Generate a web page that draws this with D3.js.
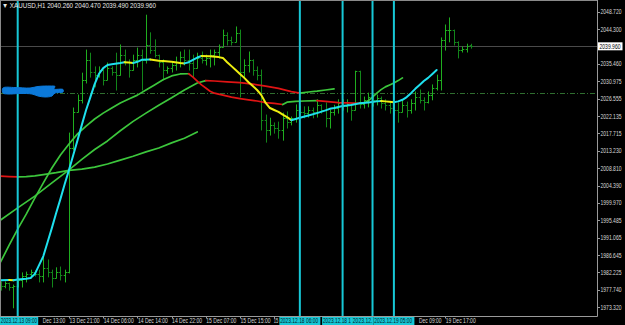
<!DOCTYPE html>
<html><head><meta charset="utf-8">
<script src="https://cdn.jsdelivr.net/npm/d3@7/dist/d3.min.js"></script>
<style>html,body{margin:0;padding:0;background:#000;overflow:hidden}</style>
</head><body>
<svg id="c" width="625" height="325"></svg>
<script>
// ---------- DATA ----------
const symbol = "XAUUSD,H1";
const barIndex = d3.range(-16, 95); // hourly bars, 0 = 13 Dec 21:00
const open = [1979.3,1978.8,1979.5,1978.5,1978.8,1980.3,1981.3,1981.8,1982.3,1981.8,1981.3,1983.4,1982.3,1980.8,1982.3,1981.6,
1982.3,2014.0,2023.2,2026.3,2031.4,2036.5,2033.4,2032.6,2033.9,2031.4,2034.4,2033.4,2032.6,2037.7,2036.0,2033.9,2036.5,2037.7,2036.5,2040.3,
2039.0,2037.7,2036.0,2033.9,2034.4,2035.2,2035.9,2037.2,2036.5,2035.7,2034.4,2037.0,2036.5,2037.0,2037.7,2038.5,2039.8,2042.8,2041.6,2041.1,
2043.4,2033.4,2035.2,2036.5,2033.9,2032.6,2021.1,2018.6,2019.9,2019.1,2018.6,2021.6,2020.6,2021.6,2023.7,2023.2,2022.9,2023.7,2023.2,2025.0,
2023.7,2021.6,2023.2,2024.2,2025.5,2024.7,2025.2,2023.7,2033.6,2025.2,2026.3,2027.0,2026.3,2026.8,2025.5,2025.0,2024.2,2023.7,2023.2,2025.0,
2023.7,2025.5,2027.0,2026.3,2025.7,2027.5,2029.3,2031.4,2041.6,2044.1,2044.1,2041.1,2039.0,2039.3,2040.26];
const high = [1979.8,1979.8,1979.5,1979.0,1980.8,1982.1,1982.3,1982.8,1982.6,1982.8,1986.2,1985.4,1982.8,1983.4,1983.6,1982.8,
2017.8,2024.2,2027.5,2033.1,2039.0,2038.2,2034.7,2034.7,2033.9,2035.7,2034.7,2038.2,2040.3,2039.0,2036.5,2037.7,2039.5,2039.0,2047.9,2043.4,
2041.6,2037.7,2036.5,2034.7,2035.9,2037.2,2038.5,2039.0,2039.0,2037.7,2038.2,2038.5,2037.7,2039.0,2039.0,2040.3,2044.1,2043.4,2042.3,2044.9,
2044.1,2036.5,2038.5,2036.5,2034.7,2033.9,2022.4,2021.6,2020.4,2020.6,2022.9,2023.2,2021.9,2025.0,2024.7,2024.5,2024.5,2024.2,2026.3,2025.0,
2025.5,2023.7,2024.9,2026.3,2026.3,2026.3,2025.2,2033.6,2033.6,2027.0,2028.0,2027.5,2027.5,2027.0,2026.3,2025.7,2025.2,2025.5,2026.3,2025.7,
2026.3,2028.3,2028.8,2026.8,2028.3,2030.1,2032.6,2042.1,2045.4,2047.2,2044.1,2041.1,2039.8,2040.5,2040.47];
const low = [1977.7,1978.3,1977.7,1973.2,1978.5,1978.5,1979.8,1980.8,1981.3,1979.8,1979.8,1981.1,1978.5,1980.8,1980.3,1979.8,
1982.1,2013.5,2023.2,2025.5,2030.6,2032.1,2029.6,2032.1,2030.1,2031.4,2032.6,2028.8,2032.6,2035.2,2032.1,2033.9,2034.7,2028.8,2035.7,2038.2,
2037.2,2034.7,2031.4,2033.1,2033.4,2033.9,2034.7,2035.2,2033.9,2032.1,2034.4,2035.7,2035.2,2034.7,2035.2,2037.0,2039.8,2040.3,2040.3,2041.1,
2027.0,2031.9,2033.4,2032.6,2031.4,2018.6,2015.5,2017.3,2017.8,2016.5,2016.0,2019.1,2019.9,2020.6,2022.4,2021.7,2021.9,2021.7,2021.9,2022.9,
2019.4,2019.1,2022.4,2022.9,2023.7,2023.2,2021.1,2023.7,2024.2,2024.2,2024.5,2024.7,2025.0,2024.2,2023.7,2022.9,2022.4,2020.6,2023.2,2021.9,
2022.9,2023.7,2025.5,2023.7,2025.5,2026.3,2028.8,2028.8,2039.0,2041.1,2040.3,2037.0,2038.5,2038.5,2039.49];
const close = [1978.8,1979.5,1978.5,1978.8,1980.3,1981.3,1981.8,1982.3,1981.8,1981.3,1983.4,1982.3,1980.8,1982.3,1981.6,1982.3,
2014.0,2023.2,2026.3,2031.4,2036.5,2033.4,2032.6,2033.9,2031.4,2034.4,2033.4,2032.6,2037.7,2036.0,2033.9,2036.5,2037.7,2036.5,2040.3,2039.0,
2037.7,2036.0,2033.9,2034.4,2035.2,2035.9,2037.2,2036.5,2035.7,2034.4,2037.0,2036.5,2037.0,2037.7,2038.5,2039.8,2042.8,2041.6,2041.1,2043.4,
2033.4,2035.2,2036.5,2033.9,2032.6,2021.1,2018.6,2019.9,2019.1,2018.6,2021.6,2020.6,2021.6,2023.7,2023.2,2022.9,2023.7,2023.2,2025.0,2023.7,
2021.6,2023.2,2024.2,2025.5,2024.7,2025.2,2023.7,2033.6,2025.2,2026.3,2027.0,2026.3,2026.8,2025.5,2025.0,2024.2,2023.7,2023.2,2025.0,2023.7,
2025.5,2027.0,2026.3,2025.7,2027.5,2029.3,2031.4,2041.6,2044.1,2044.1,2041.1,2039.0,2039.3,2040.0,2039.96];

// moving averages: [bar index, value]
const maFast = [[-16,1980.2],[-14,1980.3],[-13,1980.2],[-12,1980.4],[-10,1980.6],[-9,1980.8],[-8,1981.8],[-7,1984.1],[-6,1986.4],[-5,1990.0],
[-4,1993.6],[-3,1997.4],[-2,2001.0],[-1,2004.8],[0,2008.4],[1,2012.2],[2,2016.0],[3,2019.9],[4,2023.7],[5,2027.0],[6,2030.3],[7,2032.9],
[8,2034.4],[9,2035.2],[10,2035.4],[12,2035.7],[13,2035.9],[14,2035.8],[15,2035.7],[16,2036.0],[17,2036.5],[19,2036.6],[21,2036.3],[22,2036.2],
[24,2036.0],[26,2035.7],[27,2035.6],[28,2035.9],[29,2036.5],[30,2037.1],[31,2037.5],[33,2037.4],[35,2037.2],[36,2037.0],[37,2035.9],[38,2034.9],
[39,2033.9],[40,2032.9],[41,2031.9],[42,2030.8],[43,2029.8],[44,2028.8],[45,2027.5],[46,2025.5],[47,2024.2],[48,2023.7],[49,2023.2],[50,2022.5],
[51,2021.9],[52,2021.1],[53,2021.4],[54,2021.7],[56,2022.3],[58,2022.9],[60,2023.6],[61,2024.0],[62,2024.2],[64,2024.7],[66,2025.0],[68,2025.4],
[70,2025.6],[72,2025.9],[73,2026.0],[74,2025.9],[75,2025.8],[76,2025.7],[77,2025.9],[78,2026.3],[79,2027.0],[80,2028.0],[81,2029.1],[82,2030.1],
[83,2031.1],[84,2031.9],[85,2032.9],[86,2033.9]];
const maMid = [[-16,1984.9],[-14,1989.2],[-12,1993.3],[-10,1997.1],[-8,2001.2],[-6,2005.1],[-4,2008.9],[-2,2012.2],[0,2015.0],[2,2017.6],[4,2019.6],
[6,2021.4],[8,2022.9],[10,2024.2],[12,2025.5],[14,2026.5],[16,2027.5],[18,2028.8],[20,2030.1],[22,2031.4],[24,2032.4],[26,2032.9],[28,2032.95],
[29,2032.1],[30,2031.1],[31,2030.1],[32,2029.3],[33,2028.5],[34,2028.0],[36,2027.5],[38,2027.0],[40,2026.6],[42,2026.3],[44,2026.0],[46,2025.6],
[48,2025.4],[50,2025.1],[51,2025.7],[53,2025.9],[55,2026.0],[58,2026.1],[60,2025.9],[63,2025.6],[65,2025.5],[68,2025.4],[69,2025.5],[70,2026.0],
[71,2027.0],[72,2028.0],[73,2028.9],[74,2029.6],[75,2030.1],[76,2030.6],[77,2031.2],[78,2031.9]];
const maSlow = [[-16,1995.6],[-12,1998.7],[-8,2001.7],[-4,2005.1],[0,2008.4],[3,2011.1],[6,2013.6],[9,2015.8],[12,2018.4],[15,2020.8],[18,2022.9],
[21,2024.9],[24,2026.8],[27,2028.8],[30,2030.6],[32,2031.2],[34,2031.1],[37,2030.9],[40,2030.7],[43,2030.3],[46,2029.8],[49,2029.2],[52,2028.4],
[54,2028.0],[56,2028.3],[58,2028.5],[60,2028.8],[62,2029.1]];
const maLong = [[-16,2006.8],[-14,2006.7],[-12,2006.6],[-10,2006.7],[-8,2006.9],[-6,2007.2],[-3,2007.7],[0,2008.3],[3,2008.6],[6,2009.1],[9,2009.9],
[12,2010.9],[15,2011.9],[18,2013.0],[21,2014.0],[24,2015.3],[27,2016.5],[30,2018.1]];

const priceTicks = [2048.720,2044.300,2035.460,2030.975,2026.555,2022.135,2017.715,2013.230,2008.810,2004.390,1999.970,1995.485,1991.065,1986.645,1982.225,1977.740,1973.320];
// time labels as visible on the chart (some partly hidden behind the line labels)
const timeTickIdx    = [-8, 0, 8, 16, 24, 32, 40, 48, 80, 88];
const timeTickLabels = ["Dec 13:00","13 Dec 21:00","14 Dec 06:00","14 Dec 14:00","14 Dec 22:00","15 Dec 07:00","15 Dec 15:00","15","Dec 09:00","19 Dec 17:00"];
const vLineIdx = [-12,54,64,71,76];
const vLineLabels = ["2023.12.13 09:00","2023.12.18 06:00","2023.12.18 1","2023.12.","2023.12.19 05:00"];
const levelPrice = 2027.96;
const redaction = [[-15.44,2029.31],[-12.63,2029.44],[-9.12,2029.31],[-7.25,2029.70],[-4.44,2029.82],[-3.27,2029.70],[-3.51,2029.06],[-1.40,2028.93],
[-1.40,2028.29],[-3.27,2028.04],[-3.98,2027.27],[-5.61,2027.02],[-7.25,2027.27],[-8.65,2027.78],[-11.46,2027.91],[-14.27,2027.78],[-15.44,2028.04]];

// ---------- DRAW ----------
const W=625,H=325,R=597.5,B=316.5;
const FONT="'Liberation Sans', Arial, sans-serif";
const x = d3.scaleLinear().domain([-16,94]).range([0.6,470.85]);
const y = d3.scaleLinear().domain([1973.32,2048.72]).range([307.3,12]);
const px = i => Math.round(x(i))+0.5;
const svg = d3.select('#c');
svg.append('rect').attr('width',W).attr('height',H).attr('fill','#000');

// small axis text: 5px glyph widths, stretched vertically like the terminal font
function txt(g,xx,yy,s,len,fill,anchor,size,sy){
  const t=g.append('text').attr('x',0).attr('y',0)
   .attr('transform',`translate(${xx},${yy}) scale(1,${sy||1.3})`)
   .attr('font-family',FONT).attr('font-size',size||5)
   .attr('fill',fill).attr('text-anchor',anchor||'start').text(s);
  if(len) t.attr('textLength',len).attr('lengthAdjust','spacingAndGlyphs');
  return t;
}

const plot = svg.append('g');
const last = close.length-1;
// current price line
plot.append('line').attr('x1',0).attr('x2',R).attr('y1',Math.round(y(close[last]))+0.5).attr('y2',Math.round(y(close[last]))+0.5)
  .attr('stroke','#4a4a4a').attr('stroke-width',1);
// horizontal level
plot.append('line').attr('x1',0).attr('x2',R).attr('y1',Math.round(y(levelPrice))+0.5).attr('y2',Math.round(y(levelPrice))+0.5)
  .attr('stroke','#2f6e2f').attr('stroke-width',1).attr('stroke-dasharray','5,2,1,2');

// bars
const bars = barIndex.map((b,k)=>({i:b,o:open[k],h:high[k],l:low[k],c:close[k]}));
const bg = plot.append('g');
bars.forEach(d=>{
  const col = d.c>=d.o ? '#1fae1f' : '#12861a';
  const X = px(d.i);
  bg.append('line').attr('x1',X).attr('x2',X).attr('y1',y(d.h)-0.5).attr('y2',y(d.l)+0.5).attr('stroke',col).attr('stroke-width',1);
  bg.append('line').attr('x1',X-1.8).attr('x2',X).attr('y1',Math.round(y(d.o))+0.5).attr('y2',Math.round(y(d.o))+0.5).attr('stroke',col).attr('stroke-width',1);
  bg.append('line').attr('x1',X).attr('x2',X+1.8).attr('y1',Math.round(y(d.c))+0.5).attr('y2',Math.round(y(d.c))+0.5).attr('stroke',col).attr('stroke-width',1);
});

// coloured MA lines (colour by direction)
function drawMA(data, upCol, downCol, w){
  const line = d3.line().x(d=>x(d[0])).y(d=>y(d[1]));
  let runs=[], cur=null, prevCol=upCol;
  for(let k=1;k<data.length;k++){
    const a=data[k-1], b=data[k];
    const col = b[1]>a[1]?upCol:(b[1]<a[1]?downCol:prevCol);
    prevCol=col;
    if(!cur||cur.col!==col){ cur={col,pts:[a]}; runs.push(cur); }
    cur.pts.push(b);
  }
  runs.forEach(r=>plot.append('path').attr('d',line(r.pts)).attr('fill','none').attr('stroke',r.col)
    .attr('stroke-width',w).attr('stroke-linejoin','round').attr('stroke-linecap','round'));
}
drawMA(maLong,'#3cc63c','#e01414',1.7);
drawMA(maSlow,'#3cc63c','#e01414',1.7);
drawMA(maMid,'#3cc63c','#e01414',1.7);
drawMA(maFast,'#1ee0ee','#eeee10',2);

// vertical lines
vLineIdx.forEach(i=>{
  plot.append('line').attr('x1',x(i)).attr('x2',x(i)).attr('y1',0).attr('y2',B).attr('stroke','#17c8d6').attr('stroke-width',2);
});

// redaction scribble
plot.append('path').attr('d',d3.line().x(d=>x(d[0])).y(d=>y(d[1])).curve(d3.curveCatmullRomClosed)(redaction))
  .attr('fill','#0b79d9').attr('stroke','#0b79d9').attr('stroke-width',1);

// frame
svg.append('line').attr('x1',0).attr('x2',R).attr('y1',0.5).attr('y2',0.5).attr('stroke','#8a8a8a');
svg.append('line').attr('x1',0.5).attr('x2',0.5).attr('y1',0).attr('y2',B).attr('stroke','#8a8a8a');
svg.append('line').attr('x1',R).attr('x2',R).attr('y1',0).attr('y2',B).attr('stroke','#9a9a9a');
svg.append('line').attr('x1',0).attr('x2',R).attr('y1',B).attr('y2',B).attr('stroke','#9a9a9a');

// price axis
const ax = svg.append('g');
priceTicks.forEach(p=>{
  const yy=y(p);
  ax.append('line').attr('x1',R).attr('x2',R+2.5).attr('y1',Math.round(yy)+0.5).attr('y2',Math.round(yy)+0.5).attr('stroke','#9a9a9a');
  txt(ax,600.5,yy+2.4,p.toFixed(3),21,'#d8d8d8');
});
// current price box
const cy=y(close[last]);
ax.append('rect').attr('x',598).attr('y',cy-4).attr('width',24.5).attr('height',8).attr('fill','#ffffff');
txt(ax,599.5,cy+2.4,close[last].toFixed(3),21,'#000000');

// time axis
timeTickIdx.forEach((i,k)=>{
  const s=timeTickLabels[k];
  ax.append('line').attr('x1',px(i)).attr('x2',px(i)).attr('y1',B).attr('y2',B+2).attr('stroke','#9a9a9a');
  if(s.length>=12) txt(ax,x(i)+0.5,322.8,s,30,'#d8d8d8');
  else if(s.length<=3) txt(ax,x(i)-0.4,322.8,s,4.5,'#d8d8d8');
  else txt(ax,x(i)+30.5,322.8,s,22.5,'#d8d8d8','end');
});
vLineIdx.forEach((i,k)=>{
  const cx=x(i);
  const nextX = k<vLineIdx.length-1 ? x(vLineIdx[k+1])-20.5 : cx+20.5;
  const left = Math.max(0,cx-20.5), right=Math.min(cx+20.5,nextX);
  ax.append('rect').attr('x',left).attr('y',B+0.5).attr('width',right-left).attr('height',8).attr('fill','#17c8d6');
  const s=vLineLabels[k];
  txt(ax,left+0.8,322.8,s,Math.min(38, right-left-1.8),'#00202a');
});

// title
txt(svg,2,7.6,"\u25BC "+symbol+"  "+[open[last],high[last],low[last],close[last]].map(v=>v.toFixed(3)).join(" "),154,'#e8e8e8','start',6.2,1.1);
</script>
</body></html>
